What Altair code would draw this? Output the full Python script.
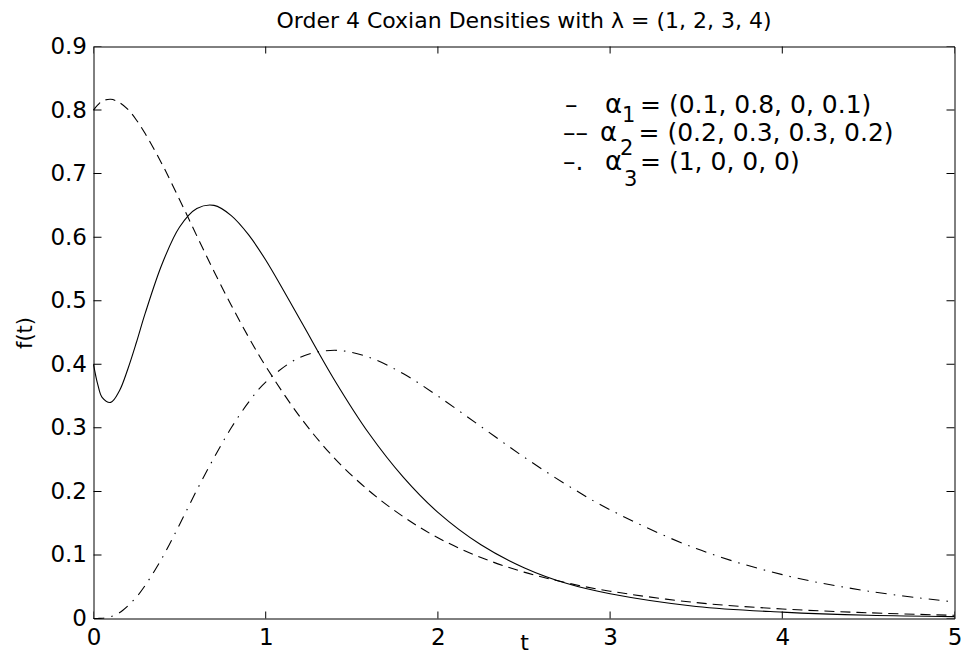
import altair as alt
import pandas as pd

# ---- data ----
t_vals = [0, 0.025, 0.05, 0.1, 0.15, 0.2, 0.25, 0.3, 0.4, 0.5, 0.6, 0.7, 0.8, 0.9, 1.0,
          1.2, 1.4, 1.6, 1.8, 2.0, 2.25, 2.5, 2.75, 3.0, 3.5, 4.0, 4.5, 5.0]
f_alpha1 = [0.400, 0.368, 0.348, 0.340, 0.358, 0.393, 0.435, 0.480, 0.559, 0.616, 0.645, 0.650,
            0.634, 0.604, 0.564, 0.470, 0.375, 0.291, 0.222, 0.167, 0.116, 0.080, 0.055, 0.039,
            0.019, 0.010, 0.005, 0.003]
f_alpha2 = [0.800, 0.808, 0.814, 0.817, 0.812, 0.801, 0.784, 0.763, 0.714, 0.659, 0.602, 0.546,
            0.493, 0.443, 0.397, 0.317, 0.252, 0.201, 0.160, 0.127, 0.096, 0.073, 0.056, 0.043,
            0.025, 0.015, 0.009, 0.005]
f_alpha3 = [0.000, 0.0001, 0.0004, 0.003, 0.009, 0.020, 0.034, 0.052, 0.096, 0.148, 0.202, 0.253,
            0.300, 0.340, 0.372, 0.411, 0.422, 0.411, 0.385, 0.350, 0.302, 0.254, 0.210, 0.171,
            0.110, 0.069, 0.043, 0.026]

x_ticks = [0, 1, 2, 3, 4, 5]
y_ticks = [0, 0.1, 0.2, 0.3, 0.4, 0.5, 0.6, 0.7, 0.8, 0.9]

title_text = "Order 4 Coxian Densities with \u03bb = (1, 2, 3, 4)"

# legend annotation pieces (text, t, f, font size)
leg_text = ["\u2013", "\u03b1", "1", "= (0.1, 0.8, 0, 0.1)",
            "\u2013\u2013", "\u03b1", "2", "= (0.2, 0.3, 0.3, 0.2)",
            "\u2013.", "\u03b1", "3", "= (1, 0, 0, 0)"]
leg_t = [2.738, 2.970, 3.069, 3.174,
         2.727, 2.941, 3.058, 3.165,
         2.727, 2.970, 3.081, 3.174]
leg_f = [0.7955, 0.7955, 0.7813, 0.7955,
         0.7513, 0.7513, 0.7294, 0.7513,
         0.7057, 0.7057, 0.6806, 0.7057]
leg_size = [25, 26, 21, 25,
            25, 26, 21, 25,
            25, 26, 21, 25]

# ---- chart ----
FONT = "DejaVu Sans"
W, H = 861, 572

xs = alt.Scale(domain=[0, 5], nice=False, zero=False)
ys = alt.Scale(domain=[0, 0.9], nice=False, zero=False)

x_axis = alt.Axis(values=x_ticks, format="d", title="t", grid=False, domain=False,
                  ticks=False, tickSize=0, labelPadding=8, labelFontSize=23,
                  labelFont=FONT, labelColor="black", titleFont=FONT, titleFontSize=22,
                  titleFontWeight="normal", titleColor="black", titleBaseline="alphabetic",
                  titleY=31, titleX=W / 2, labelFlush=False, labelOverlap=False)
y_axis = alt.Axis(values=y_ticks, labelExpr="datum.value == 0 ? '0' : format(datum.value, '.1f')",
                  title="f(t)", grid=False, domain=False, ticks=False, tickSize=0,
                  labelPadding=7, labelFontSize=23, labelFont=FONT, labelColor="black",
                  titleFont=FONT, titleFontSize=21, titleFontWeight="normal", titleColor="black",
                  titleAngle=270, titleX=-68, titleY=H / 2, titleAlign="center",
                  titleBaseline="middle", labelFlush=False, labelOverlap=False)

X = alt.X("t:Q", scale=xs, axis=x_axis)
Y = alt.Y("f:Q", scale=ys, axis=y_axis)

d1 = pd.DataFrame({"t": t_vals, "f": f_alpha1})
d2 = pd.DataFrame({"t": t_vals, "f": f_alpha2})
d3 = pd.DataFrame({"t": t_vals, "f": f_alpha3})

l1 = alt.Chart(d1).mark_line(color="black", strokeWidth=1.1, interpolate="catmull-rom").encode(x=X, y=Y)
l2 = alt.Chart(d2).mark_line(color="black", strokeWidth=1.1, interpolate="catmull-rom",
                             strokeDash=[10, 6]).encode(x=X, y=Y)
l3 = alt.Chart(d3).mark_line(color="black", strokeWidth=1.1, interpolate="catmull-rom",
                             strokeDash=[11, 7, 1.5, 7]).encode(x=X, y=Y)

# inward tick marks on all four sides (clipped to plot area)
xt_bottom = pd.DataFrame({"t": x_ticks, "f": [0] * len(x_ticks)})
xt_top = pd.DataFrame({"t": x_ticks, "f": [0.9] * len(x_ticks)})
yt_left = pd.DataFrame({"t": [0] * len(y_ticks), "f": y_ticks})
yt_right = pd.DataFrame({"t": [5] * len(y_ticks), "f": y_ticks})

def tick_layer(df, orient, size):
    return alt.Chart(df).mark_tick(orient=orient, size=size, thickness=1, color="black",
                                   opacity=1, clip=True).encode(x=X, y=Y)

ticks = [tick_layer(xt_bottom, "vertical", 14), tick_layer(xt_top, "vertical", 14),
         tick_layer(yt_left, "horizontal", 16), tick_layer(yt_right, "horizontal", 16)]

leg_df = pd.DataFrame({"t": leg_t, "f": leg_f, "label": leg_text, "size": leg_size})
legend = alt.Chart(leg_df).mark_text(align="left", baseline="alphabetic", font=FONT,
                                     color="black").encode(
    x=X, y=Y, text="label:N", size=alt.Size("size:Q", scale=None, legend=None))

# title drawn centred over the plot, just above its top edge
title_df = pd.DataFrame({"t": [2.5], "f": [0.9], "label": [title_text]})
title = alt.Chart(title_df).mark_text(align="center", baseline="alphabetic", font=FONT,
                                      fontSize=22, color="black", dy=-19).encode(
    x=X, y=Y, text="label:N")

chart = alt.layer(l1, l2, l3, *ticks, legend, title).properties(
    width=W, height=H,
    background="white",
    autosize=alt.AutoSizeParams(type="none"),
    padding={"left": 85.5, "top": 38.5, "right": 8.5, "bottom": 37.5},
).configure_view(stroke="black", strokeWidth=1)

chart.save("out.html", embed_options={"renderer": "svg", "actions": False})
